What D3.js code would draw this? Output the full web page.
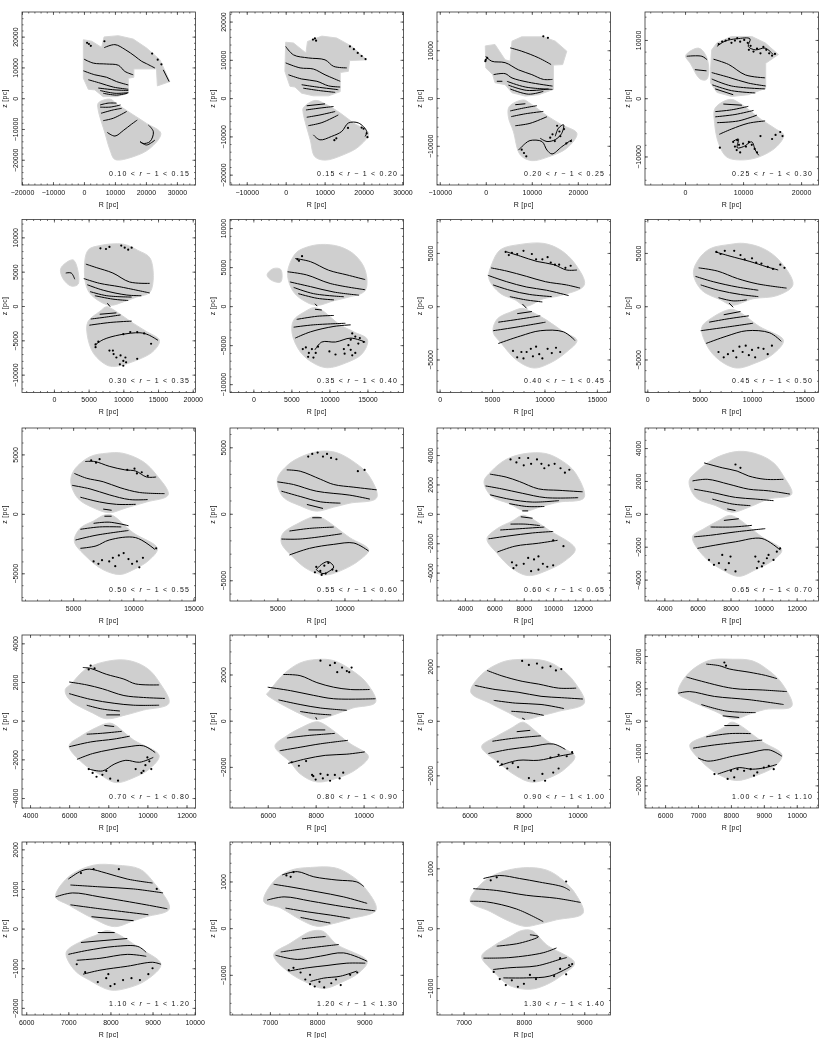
<!DOCTYPE html>
<html><head><meta charset="utf-8">
<script src="https://cdn.jsdelivr.net/npm/d3@7"></script>
<style>html,body{margin:0;background:#fff}svg{display:block}text{font-family:"Liberation Sans",sans-serif;font-size:7px;fill:#111}</style>
</head><body><svg id="c" width="830" height="1038"></svg>
<script>
const panelLabels=["0.10","0.15","0.20","0.25","0.30","0.35","0.40","0.45","0.50","0.55","0.60","0.65","0.70","0.80","0.90","1.00","1.10","1.20","1.30"];
const panelLabelEnds=["0.15","0.20","0.25","0.30","0.35","0.40","0.45","0.50","0.55","0.60","0.65","0.70","0.80","0.90","1.00","1.10","1.20","1.30","1.40"];
const rDomains=[[-20000,36000],[-14300,30250],[-10600,27100],[-6900,23000],[-4600,20400],[-3070,19740],[-250,16300],[-220,16350],[750,15170],[1470,14400],[2100,13900],[2830,13320],[3590,12460],[4425,11665],[4800,11220],[5390,10660],[5900,10020],[6155,9830],[6560,9435]];
const zDomains=[[-28200,28000],[-22700,22500],[-18200,18000],[-14900,14800],[-12600,12600],[-11070,11100],[-8100,8140],[-8100,8140],[-7330,7220],[-6560,6450],[-5930,5840],[-5300,5220],[-4515,4430],[-3780,3710],[-3200,3150],[-2700,2650],[-2180,2185],[-1860,1845],[-1450,1440]];
const rTicks=[[-20000,-10000,0,10000,20000,30000],[-10000,0,10000,20000,30000],[-10000,0,10000,20000],[0,10000,20000],[0,5000,10000,15000,20000],[0,5000,10000,15000],[0,5000,10000,15000],[0,5000,10000,15000],[5000,10000,15000],[5000,10000],[4000,6000,8000,10000,12000],[4000,6000,8000,10000,12000],[4000,6000,8000,10000,12000],[6000,8000,10000],[6000,8000,10000],[6000,7000,8000,9000,10000],[6000,7000,8000,9000,10000],[7000,8000,9000],[7000,8000,9000]];
const zTicks=[[-20000,-10000,0,10000,20000],[-20000,-10000,0,10000,20000],[-10000,0,10000],[-10000,0,10000],[-10000,-5000,0,5000,10000],[-10000,-5000,0,5000,10000],[-5000,0,5000],[-5000,0,5000],[-5000,0,5000],[-5000,0,5000],[-4000,-2000,0,2000,4000],[-4000,-2000,0,2000,4000],[-4000,-2000,0,2000,4000],[-2000,0,2000],[-2000,0,2000],[-2000,-1000,0,1000,2000],[-2000,-1000,0,1000,2000],[-1000,0,1000],[-1000,0,1000]];
const minorSteps=[2000,2000,2000,2000,1000,1000,1000,1000,1000,1000,500,500,500,500,500,200,200,200,200];
const upperOutlines=[
[-200,19000,2500,18500,5700,16500,6500,19900,11100,20300,15900,19200,20200,16300,24500,12500,27700,5400,23700,4000,23400,9500,16100,9500,16100,6800,14300,6500,14300,1600,10500,500,6200,500,3500,2700,1400,2900,-200,6500],
[0,14600,2000,14400,5200,11800,5600,14800,9300,16200,13100,15700,17000,13500,20800,10000,16400,9800,16100,7000,14000,6700,14000,1700,11000,600,7100,600,4100,1300,2400,2900,1100,3100,-200,7000],
[-100,10900,2000,11200,4200,8000,5300,7700,5700,11900,7800,12800,12500,12800,15100,11900,17600,9800,16700,7000,14700,6900,14700,1800,11500,700,8600,400,5700,1100,4200,2800,2000,3200,1500,4900,0,6300],
[4400,4900,4600,8300,5500,9500,8000,10600,11500,10600,13800,9500,16100,7500,13900,6000,13900,1700,10900,600,8000,300,5500,1000,4400,2600],
[4900,8100,6600,8800,10000,9000,12100,8100,13900,6900,13900,2100,11900,1300,10000,600,8100,100,6100,1000,4900,2300,4400,4800],
[5500,6700,6600,7400,8800,7900,11400,7600,13400,6500,14700,4600,14700,2000,12300,1100,10600,700,8400,100,7000,500,5300,1800,4500,4200],
[5800,5300,7700,5800,9900,5900,11500,5300,12900,4000,13800,2000,11500,1000,9900,700,8200,0,7200,600,5800,1200,4700,2600,5000,4000],
[6000,5400,7900,5800,9200,5900,11100,5400,12700,4200,13900,2000,12400,1000,10100,700,8100,100,7000,600,5200,1500,4400,3100,4900,4400],
[5100,3700,6400,4800,7800,5100,9100,5100,10800,4400,11900,3300,12900,1600,11100,1000,9400,500,8000,100,6700,500,5400,1300,4800,2700],
[5700,3600,6800,4300,8200,4700,9400,4600,10700,3900,11800,2900,12400,1200,10400,800,9200,500,7900,200,6700,600,5400,1300,5000,2600],
[5800,2900,6800,3700,8100,4100,9500,4100,10600,3600,11500,2800,12100,1100,10400,800,9200,500,8100,200,7000,700,5800,1200,5300,2200],
[6000,2600,7100,3400,8500,3800,9700,3600,10600,3100,11200,2300,11700,1200,10300,900,9100,400,8100,100,7100,500,5900,1000,5500,2000],
[6100,1900,6900,2700,8100,3100,9100,3100,10000,2700,10600,2000,11100,900,9800,550,8900,300,7900,100,7200,400,6000,1100,5800,1600],
[6000,1200,6650,2000,7350,2500,8050,2650,8750,2600,9550,2150,10150,1600,10500,800,9550,550,8750,250,8000,50,7350,300,5950,1150],
[6050,1050,6450,1700,7200,2150,7800,2250,8800,2200,9400,1900,9900,1400,10250,650,9300,350,8700,200,8000,50,7450,300,6750,650],
[6400,850,6650,1400,7300,1850,8050,1900,8650,1850,9150,1550,9550,1150,9850,450,9050,350,8550,200,8100,50,7500,300,6700,650],
[6700,800,7000,1300,7600,1600,8150,1600,8700,1500,9000,1200,9400,500,8850,300,8550,200,8100,50,7600,250,7000,600],
[6870,570,7080,1000,7440,1240,7860,1300,8390,1290,8700,1140,8990,890,9250,390,8700,200,8350,100,8000,40,7650,180,7230,430],
[7110,450,7270,720,7550,910,7990,1010,8380,970,8650,800,8870,550,8980,250,8540,140,8260,70,8020,30,7770,110,7440,280]];
const lowerOutlines=[
[4600,-1600,8400,-300,10500,-1800,15900,-5400,20200,-8200,24800,-11400,21300,-16300,15900,-19000,10000,-19900,8400,-16800,6800,-11400,4600,-3800],
[4500,-2600,7500,-600,10100,-1500,14000,-3900,17400,-6500,21300,-9200,18700,-12700,14800,-14800,10100,-16200,7500,-15300,6300,-10900,4500,-3900],
[5100,-1800,8200,-400,9600,-1100,13600,-3900,16500,-5600,19800,-7400,17600,-10500,13600,-12300,10000,-13100,7500,-11900,6000,-7000,4900,-3900],
[5200,-1700,7800,-200,9500,-900,13200,-3700,15500,-5200,17000,-6300,15800,-8300,12700,-10100,9500,-10600,7200,-10100,5800,-7800,5100,-4300],
[7600,-100,8500,-500,11400,-2500,13300,-3700,15200,-5000,14300,-6600,11400,-8100,8800,-8800,7600,-8600,5700,-6900,4800,-4200,4900,-2300,6600,-800],
[7900,-200,8800,-400,11400,-2400,13200,-3300,15000,-4300,14300,-6100,12100,-7300,9700,-7900,7900,-7300,6200,-5900,5100,-3500,5300,-1800,6800,-700],
[7900,-200,8500,-400,10200,-1300,11800,-2400,13100,-3200,12100,-4300,10600,-5300,9000,-5800,7400,-5100,5900,-3500,5100,-2400,5500,-1200,6900,-500],
[7900,-300,8700,-500,10700,-1900,13000,-3200,12000,-4500,10400,-5300,8500,-5800,6800,-5000,5700,-3700,5200,-2000,6000,-1200],
[7600,-100,8200,-100,10000,-1600,12000,-2900,11300,-3900,10000,-4700,8900,-5100,7500,-4700,6100,-3600,5100,-2300,5600,-1200,6700,-600],
[7800,-200,8300,-300,10400,-1800,11800,-2700,11100,-3500,9900,-4200,8600,-4600,7300,-4200,6200,-3300,5300,-2200,5400,-1500,6600,-700],
[7900,-100,8300,-200,9700,-1100,11500,-2400,10800,-3200,9700,-3800,8300,-4200,7200,-3700,6200,-2700,5500,-1700,6200,-1000,7200,-500],
[7900,-100,8300,-200,9900,-1400,11100,-2200,10600,-2800,9500,-3400,8500,-3800,7500,-3400,6400,-2600,5700,-1400,6400,-900,7300,-400],
[7900,-150,8200,-150,9300,-1000,10600,-1800,10100,-2500,9400,-2900,8400,-3200,7600,-2800,6700,-2200,6000,-1300,6600,-800,7400,-350],
[8000,-50,8250,-100,9450,-1000,10200,-1550,9700,-2100,9000,-2450,8050,-2650,7350,-2300,6950,-1800,6300,-1100,6800,-650,7400,-300],
[7950,-50,8100,-100,8900,-750,9900,-1300,9550,-1750,9050,-2050,8300,-2250,7700,-2000,7100,-1550,6450,-950,6950,-600,7500,-300],
[8000,-50,8200,-100,8950,-650,9550,-1050,9350,-1400,8750,-1700,8150,-1850,7600,-1650,7100,-1250,6750,-750,7300,-450,7800,-200],
[7900,-50,8100,-100,8700,-500,9200,-900,8850,-1300,8400,-1500,8000,-1550,7500,-1300,7150,-1050,6950,-600,7350,-300,7700,-150],
[7860,-70,8110,-60,8420,-350,9060,-710,8880,-960,8560,-1140,8140,-1290,7790,-1170,7370,-920,7080,-570,7440,-320,7720,-140],
[7960,-40,8130,-40,8380,-280,8840,-580,8650,-770,8380,-940,8100,-1020,7770,-960,7490,-720,7300,-470,7490,-300,7770,-140]];
const lobeOutlines={3:[100,7300,2300,8600,3500,7500,4100,4900,3700,3200,2600,3300,900,6000],4:[1000,5500,2800,6700,3500,3200,2500,2900,1300,4000],5:[1800,4000,2600,4800,3600,4700,3600,3100,2400,3300]};
const contourLines=[
[[6500,16400,10000,17400,13300,15800,16500,13600,18600,12000,20200,11200,22900,9800],[25600,9200,27500,5400],[0,12700,3000,11400,7300,11100,11100,10700,13200,8700,15900,7600],[-200,8900,3500,7600,7300,6800,10500,5400,14300,4300],[1400,6000,5200,4900,9500,3600,14300,2900],[4600,3300,10000,2700,14300,2500],[5200,2500,10000,1600,14300,1800],[6200,1600,10500,1000,14000,1600],[5200,-2200,7800,-1600,10500,-1600],[5200,-2900,8400,-2900,11800,-2200],[5500,-4900,9500,-3800,12200,-3300],[6200,-7300,9500,-6500,13800,-4300],[7500,-11100,10000,-12300,12700,-10500,15400,-8400,17200,-7100],[20800,-8700,22400,-10900,21300,-14100,19100,-14700,18100,-14100,20200,-15200,22900,-13600]],
[[0,13500,2000,11300,5800,10500,10100,10000,12300,8300,15700,7900],[0,9200,3700,7900,7100,7600,10100,6100,14000,4400],[700,6100,4100,5000,8000,4400,11000,3200,14000,2900],[4100,3500,8000,2900,13500,2200],[4500,2600,8400,2000,12700,1500],[5400,-2000,10100,-1500],[5200,-3100,8800,-2600,12300,-2200],[5400,-5000,8800,-4400,12700,-3500],[5800,-7200,9300,-6400,13500,-4400],[7100,-9600,8800,-10900,11800,-10000,14400,-8700,16100,-6500,18700,-6500,20800,-8700,20400,-10000]],
[[5300,10500,7800,9800,11500,8400,14200,7000],[0,8700,1300,7700,4200,7400,7100,5900,10000,4900,12500,3900,14500,3900],[1700,4900,4200,5100,5700,4200,9300,3300,14500,2500],[4600,3500,8600,2300,14500,1800],[4900,2700,8900,1600,13600,1900],[5300,1900,9300,800,12500,1400],[2400,3500,3600,3500],[6400,-1400,8600,-1200],[5300,-2700,8200,-2100,11100,-1600],[5500,-3900,8600,-3300,12500,-2800],[6400,-5800,9600,-5300,13300,-3900],[7100,-10900,8600,-9500,9600,-8900,12200,-9100,13300,-10900,14400,-11700,16500,-10200,18700,-8700],[15100,-8000,15800,-6300,16900,-5600,16500,-7400,15100,-8700,13300,-9100,11800,-8400]],
[[300,7200,2900,7200,3800,6600],[1700,4900,3700,4700],[4900,6700,7500,5800,10400,4000,13800,3500],[4600,4400,7500,3600,10900,2600,13900,2100],[4600,3300,8000,2100,13800,1600],[4700,2300,8000,1300,12100,900],[5200,1600,8300,600],[5500,8900,6900,9800,8900,10200,11200,10200,10900,8900,12100,8300,13800,8600,15200,7500],[6600,-1000,9800,-1200],[5200,-2300,8000,-2000,10900,-1400],[5200,-3200,8600,-2800,11800,-2100],[5500,-4200,9200,-3900,12400,-2900],[5900,-6200,8000,-5300,10900,-4300,13800,-3900],[8300,-7400,9200,-7000,9000,-8500,10100,-8300,11500,-7500,12100,-8900,12700,-9800]],
[[4600,6100,6100,5600,8500,4800,10900,3500,13800,3300],[4300,4000,6600,3300,9500,2800,13800,1900],[4800,3100,7100,2300,10500,1600,12600,1500],[5200,2100,7600,1500,11200,1300],[5900,1500,8500,1000,10700,800],[7700,400,8100,-100],[1700,4800,2500,4800,3000,3900],[6600,-1200,9000,-1000],[5300,-1900,7600,-1600,9600,-1300],[5100,-2800,8100,-2400,11200,-2200],[5900,-5700,7100,-4900,9500,-4200,12400,-3900,13600,-4200,15000,-5000]],
[[5500,6100,7500,5700,9900,4600,12300,4000,14700,3400],[4500,4400,7000,4000,10100,2900,14700,2100],[4800,3100,7500,2500,10600,1800,13900,1400],[5300,2400,7900,1600,11900,1200],[5900,1600,8400,1000,10600,800],[8100,300,8400,0],[8100,-400,9000,-500],[5700,-1700,8400,-1300,10600,-1200],[5300,-2700,7900,-2400,12100,-2200],[5500,-4100,7500,-3300,10600,-2600,12800,-2400],[8100,-5600,9000,-4600,10800,-4600,12800,-4100,14700,-4600]],
[[6400,5100,7700,4700,9300,4200,10900,3900,12100,3400,13100,3400],[4900,3600,6400,3300,8300,2800,10100,2300,12100,2000,13400,1700],[4600,2900,6400,2300,8300,1800,10200,1500,12300,1000],[5100,2000,6700,1500,8600,1100,10700,900],[6700,900,8200,600,9800,400],[7900,200,8300,-200],[7400,-700,8800,-500],[5600,-1500,7700,-1200,9600,-900],[5100,-2300,7100,-2000,10100,-1500],[5600,-3500,7700,-2800,9600,-2300,11800,-2400,12900,-3200]],
[[6500,5100,7900,4700,9800,4200,11400,3700,12500,3400],[4900,3600,6700,3300,8600,2600,10500,2100,13300,1700],[4600,2800,6300,2300,8600,1800,10600,1500],[5100,2000,6800,1500,8900,1100,10600,900],[6800,800,8200,500,9500,600],[7800,300,8200,-100],[7300,-800,8900,-500],[5900,-1500,7600,-1200,9700,-900],[5100,-2300,7300,-2000,10100,-1600],[5600,-3500,7600,-2800,9500,-2300,11700,-2500,12800,-3300]],
[[6000,4400,6800,4400,8000,4000,9300,3700,10200,3600,11100,3100,11900,3100],[5100,3400,6100,3000,7500,2700,8900,2200,10500,1800,12600,1700],[4900,2400,6400,2100,8000,1600,9700,1200,11200,1200],[5600,1400,7200,1000,8600,800,10200,800],[7500,400,8200,300],[7600,-200,8200,-200],[6700,-800,8000,-700,9600,-1000],[5600,-1300,7200,-1100,9000,-1100],[5200,-2200,6900,-1800,9600,-1400],[5600,-2900,6900,-2700,8000,-2200,10200,-2000,11800,-3000]],
[[5700,3300,6700,3200,8200,2600,9200,2200,10700,2000,12400,1800],[5000,2400,6200,2200,7900,1700,10400,1400,11900,1100],[5300,1700,6700,1300,8200,900,9700,800],[7200,700,8400,400],[7600,-300,8300,-300],[5900,-1300,7400,-1100,9200,-1000],[5300,-1900,6700,-1900,9800,-1500],[5900,-3100,7400,-2600,9200,-2300,10700,-2200,11800,-2800],[7900,-4200,8300,-3800,8800,-3600,9200,-4000,8900,-4300,8400,-4500,7900,-4200]],
[[5700,2700,6800,2500,7700,2200,9000,1700,10400,1600,12000,1500],[5400,1900,6500,1700,7900,1400,9500,1100,11700,1100],[5700,1300,7000,1000,8600,800,10400,900],[7000,700,8200,500,9400,500],[7900,200,8300,200],[7800,-200,8600,-300],[7100,-700,8100,-700,9100,-800],[6400,-1100,7900,-1000,9400,-900],[5600,-1700,7000,-1500,8600,-1300,10000,-1200],[6200,-2600,7400,-2200,9000,-2000,10300,-1800]],
[[6400,3100,7500,2800,8400,2600,9100,2300,10100,2100,11200,2100],[5700,2000,6600,2100,7900,1800,9100,1500,10300,1400,11600,1200],[5800,1500,6900,1300,8300,1000,9500,900,10600,800],[6900,900,8100,600,9200,500],[7800,300,8300,200],[7600,-400,8500,-300],[6800,-800,8100,-800,9300,-700],[5800,-1400,6800,-1300,8300,-1100,10100,-900],[6000,-2100,7100,-1900,8300,-1700,9900,-1500,11000,-2200]],
[[6700,2750,7100,2700,7900,2400,8800,2150,9400,1900,10600,1850],[6000,2000,6900,1850,7700,1650,8800,1300,9800,1200,10900,1150],[6000,1400,7100,1100,8300,900,9300,800,10600,800],[6900,800,7700,600,8600,500],[7900,300,8600,300],[7800,-250,8300,-300],[6900,-700,7700,-650,8700,-550],[6000,-1350,7100,-1100,8300,-950,9100,-800],[6400,-2000,7200,-1700,8100,-1500,9000,-1350,9800,-1300,10400,-1650],[7000,-2500,7700,-2600,8300,-2250,8900,-2050,9600,-2150,10300,-1900]],
[[6650,2000,7350,1950,8050,1650,8750,1450,9450,1350,10250,1350],[6000,1450,6950,1300,7900,1100,8750,950,10500,950],[6450,900,7350,700,8200,550,9300,450],[7350,400,8000,300,8650,250],[8000,150,8050,50],[7700,-400,8400,-400],[6800,-750,7600,-650,8800,-550],[6500,-1300,7350,-1150,8200,-1000,9350,-850],[6850,-1850,7600,-1650,8400,-1500,9300,-1450,10050,-1350]],
[[6650,1850,7200,1650,7950,1450,8550,1350,9300,1200,9950,1200],[6200,1300,6950,1150,7800,1050,8650,900,9400,850,10200,800],[6900,750,7700,650,8650,600,9500,450],[7550,350,8200,300,8750,200],[7950,100,8050,50],[7750,-400,8250,-350],[6850,-750,7550,-650,8650,-550],[6700,-1200,7450,-1050,8250,-950,9100,-850,9550,-1050],[7100,-1650,7800,-1450,8550,-1450,9300,-1300,9850,-1200]],
[[7250,1750,7650,1700,7950,1600,8550,1500,9050,1400,9400,1300],[6650,1350,7000,1250,8050,1000,8950,950,9700,900],[6400,850,6750,900,7500,750,8550,650,9600,500],[7100,500,7850,300,8750,250],[7750,150,8250,100],[7800,-150,8250,-150],[7250,-500,7950,-400,8600,-400],[6850,-850,7500,-750,8950,-600],[7000,-1150,7300,-1250,8050,-1100,8550,-1000,9150,-900,9550,-1100],[7600,-1650,8050,-1500,8250,-1450,8650,-1500,9050,-1450,9400,-1350]],
[[7000,1250,7300,1450,7500,1500,7900,1400,8400,1250,9000,1150],[7050,1100,7800,1050,8550,1000,9250,900],[6700,800,7100,900,7750,800,8850,600,9350,500],[7050,600,7750,500,8900,350],[7550,300,8550,200],[7700,-100,8100,-100],[7300,-350,8400,-250],[7000,-650,7450,-550,8100,-450,8650,-450,8850,-600],[7200,-800,7750,-750,8400,-650,8850,-700],[7350,-1150,7750,-1050,8400,-950,9000,-850,9200,-900]],
[[7260,1140,7580,1210,7930,1100,8420,1030,8840,990,8990,890],[7080,940,7510,870,8000,780,8560,670,9060,530],[6940,600,7300,670,7860,580,8560,460,9230,370],[7330,430,7790,350,8280,280,8700,210],[7650,230,8000,160,8280,110],[7680,-230,7930,-200,8180,-180],[7230,-510,7790,-430,8460,-350],[7120,-580,7580,-670,8070,-600,8560,-530,9060,-710],[7400,-920,7790,-850,8210,-800,8630,-750,9020,-750],[7860,-1140,8140,-1070,8490,-1030,8840,-920]],
[[7330,830,7600,880,7930,830,8260,770,8650,690,8760,630],[7160,660,7550,630,8040,550,8540,500,8940,430],[7110,450,7380,440,7880,320,8320,110],[7550,-300,7930,-250,8240,-140,8100,-110],[7330,-500,7770,-490,8320,-410,8540,-330],[7490,-690,7770,-660,8210,-630,8600,-520,8710,-490],[7660,-830,8040,-830,8430,-800,8790,-630]]];
const speckles=[
[1000,18000,1600,17600,2200,17000,6600,18500,22000,14500,23800,12500,25000,11000],
[7000,15300,7500,15600,7800,15000,16500,13500,17500,12800,18500,11800,19500,11000,20500,10200,20000,-8000,20800,-9200,21000,-10200,19500,-7700,12500,-11000,16000,-7800,13000,-10500],
[15500,-5800,16000,-7000,14500,-7600,17000,-6500,16200,-8000,15000,-9000,17500,-9500,18500,-9000,14000,-8300,7800,-10800,8300,-11500,8800,-12200,0,8000,300,8400,-100,7700,12500,12900,13500,12600],
[5800,9300,6400,9700,7000,9900,7600,10200,8000,9500,8600,9900,9000,10300,9500,9700,10200,10000,10800,9500,11300,9000,11000,8300,11800,8000,12400,8500,13000,7700,13500,8800,14000,8300,14500,7700,15000,7300,15500,7600,8300,-7500,8600,-8300,9000,-7200,9300,-8000,8900,-8900,9500,-9300,10000,-7800,10500,-8300,11000,-7500,11500,-8000,12000,-8700,12400,-9300,13000,-6500,15600,-6300,16400,-5800,16800,-6500,15000,-7000,6000,-8500],
[6700,8400,7500,8300,8000,8600,9700,8800,10200,8500,10700,8200,11200,8500,8600,-7000,9000,-7500,9600,-7200,10000,-8000,10300,-7500,9500,-8500,10000,-8700,10400,-8200,8000,-6500,8500,-6500,6000,-6000,14000,-5500,12000,-7700,10000,-4100,11000,-3800,12000,-3800,13000,-4000,6000,-5600,6400,-5200],
[6900,-5300,7300,-6000,7700,-5500,7200,-6500,7900,-6600,8200,-6000,8500,-5200,6500,-5500,12500,-5000,12800,-5600,13400,-6000,13000,-6300,11900,-5500,12000,-6100,12800,-4300,13400,-3900,14000,-4100,14500,-4600,13800,-4800,13000,-3500,10000,-5800,10800,-6200,6000,5800,6400,6400,5800,6000],
[6300,5100,6900,5000,6600,4800,7400,4900,8000,5200,8800,4900,9200,4400,9800,4400,10300,4600,10600,4100,11000,3900,11400,3900,12000,3600,12500,3800,7000,-4200,7400,-4800,7800,-4300,8000,-4900,8300,-4300,8700,-4000,8900,-4700,9200,-3800,9500,-4500,9800,-4900,10300,-4000,10700,-4400,11100,-3900,11500,-4300],
[6600,5100,7000,4900,7400,5200,8300,5200,8900,4800,9300,4400,10000,4500,10400,4100,10900,4000,11500,3700,12000,3500,12700,3900,13100,3600,6800,-4300,7300,-4800,7700,-4500,8200,-4200,8500,-4800,8800,-3800,9100,-4300,9400,-3700,9700,-4600,10000,-4100,10300,-4800,10600,-3900,11100,-4000,11500,-4500,11900,-3700],
[6500,4500,6900,4300,7200,4600,9500,3700,10100,3800,10300,3400,10700,3500,11200,3200,6700,-4000,7100,-4200,7400,-3900,8000,-4000,8300,-3700,8500,-4400,8800,-3500,9200,-3300,9600,-3800,9900,-4200,10300,-4000,10500,-4500,10800,-3700,11900,-2900],
[7300,4300,7600,4500,8000,4600,8400,4300,8700,4500,9000,4200,9400,4100,11000,3200,11500,3300,7900,-4000,8200,-4300,8500,-3900,8800,-3700,8600,-4500,9100,-4200,8300,-4600,7800,-4400,9400,-4300],
[7100,3700,7500,3500,7700,3800,8000,3300,8300,3800,8500,3400,8900,3700,9200,3400,9400,3100,9700,3300,10100,3400,10500,3100,10800,2800,11100,3000,7200,-3300,7300,-3700,7500,-3500,8000,-3400,8300,-3000,8700,-3100,9000,-2900,9300,-3400,9600,-3600,10000,-3500,9000,-3800,8500,-3900,10700,-2200,10000,-1800],
[6700,-2800,7000,-3100,7300,-3000,7700,-3400,7900,-3000,8300,-3500,8000,-2600,7500,-2500,9500,-2600,9700,-2900,10000,-3000,10300,-2500,10600,-2800,9900,-3200,9600,-3300,10200,-2700,10800,-2300,11000,-2100,8300,3000,8600,2800],
[7000,2650,7100,2850,7300,2700,7000,-2500,7200,-2700,7400,-2900,7700,-2800,7900,-2600,8100,-3000,8500,-3100,9400,-2500,9700,-2700,9900,-2300,10100,-2100,10200,-2500,10000,-1900,9800,-2600],
[8200,2600,8600,2400,8800,2500,9100,2300,9300,2150,9500,2300,8900,2100,9400,2100,7850,-2350,8000,-2550,8200,-2300,8300,-2500,8500,-2350,8600,-2600,8800,-2350,9000,-2500,9150,-2250,7000,-1800,7300,-1950,7600,-1750,7900,-2400],
[7950,2200,8200,2050,8500,2100,8700,1950,9000,2000,9200,1850,9400,1900,7200,-1600,7400,-1750,7600,-1550,7800,-1700,7050,-1500,8200,-2100,8400,-2200,8700,-1950,8800,-2200,9100,-1900,9300,-1750,9000,-1350,9300,-1250,9600,-1300,9800,-1150],
[7800,1800,7850,1700,7500,-1650,7900,-1800,8000,-1550,8200,-1500,8400,-1550,8600,-1500,8800,-1600,9000,-1450,9150,-1400,9300,-1500,8100,-1750,8700,-1700],
[7300,1400,7600,1500,8200,1500,9100,1000,7700,-1350,7900,-1250,8100,-1400,8300,-1300,8500,-1250,8700,-1300,8900,-1150,9000,-1000,8000,-1450,7950,-1150,7200,-900,7400,-1100],
[7350,1130,7500,1200,7440,1100,7750,-1100,7850,-1200,7950,-1250,8050,-1150,8150,-1270,8300,-1180,8400,-1100,8500,-1220,8700,-1000,8850,-950,7400,-900,7500,-850,7650,-950,7850,-1000],
[7450,800,7550,850,7600,-850,7700,-950,7800,-870,7900,-980,8000,-930,8100,-780,8200,-850,8500,-800,8600,-680,8700,-770,8600,-500,8750,-620,7500,-730,8800,-600,8700,780]];
const cornerPanels=[0,1,2,3];

const colLefts=[22,230,437,645],rowTops=[12,219.5,428,635,842],frameW=173.5,frameH=173;
const toPoints=f=>d3.range(0,f.length,2).map(i=>[f[i],f[i+1]]);
const svg=d3.select("#c");
const defs=svg.append("defs");
defs.append("filter").attr("id","soft").attr("filterUnits","userSpaceOnUse").attr("x",0).attr("y",0).attr("width",830).attr("height",1038)
  .append("feGaussianBlur").attr("stdDeviation",0.65);
const root=svg.append("g").attr("filter","url(#soft)");
root.append("rect").attr("width",830).attr("height",1038).attr("fill","#fff");
const fmt=d3.format("d");
panelLabels.forEach((lab,i)=>{
  const left=colLefts[i%4],top=rowTops[Math.floor(i/4)];
  const x=d3.scaleLinear().domain(rDomains[i]).range([left,left+frameW]);
  const y=d3.scaleLinear().domain(zDomains[i]).range([top+frameH,top]);
  const g=root.append("g");
  const straight=d3.line().x(d=>x(d[0])).y(d=>y(d[1])).curve(d3.curveLinearClosed);
  const round=d3.line().x(d=>x(d[0])).y(d=>y(d[1])).curve(d3.curveCatmullRomClosed.alpha(0.5));
  const open=d3.line().x(d=>x(d[0])).y(d=>y(d[1])).curve(d3.curveCatmullRom.alpha(0.5));
  const hasCorners=cornerPanels.includes(i);
  const shapes=[{f:upperOutlines[i],gen:hasCorners?straight:round},{f:lowerOutlines[i],gen:round}];
  if(lobeOutlines[i])shapes.push({f:lobeOutlines[i],gen:round});
  g.selectAll("path.s").data(shapes).join("path").attr("class","s").attr("d",s=>s.gen(toPoints(s.f))).attr("fill","#cfcfcf").attr("stroke","#d6d6d6").attr("stroke-width",1);
  g.selectAll("path.c").data(contourLines[i]).join("path").attr("class","c").attr("d",f=>open(toPoints(f))).attr("fill","none").attr("stroke","#000").attr("stroke-width",1);
  g.selectAll("circle.k").data(toPoints(speckles[i])).join("circle").attr("class","k").attr("cx",d=>x(d[0])).attr("cy",d=>y(d[1])).attr("r",1.1).attr("fill","#000");
  const step=minorSteps[i];
  const rMinor=d3.range(Math.ceil(rDomains[i][0]/step)*step,rDomains[i][1],step);
  const zMinor=d3.range(Math.ceil(zDomains[i][0]/step)*step,zDomains[i][1],step);
  const place=(gen,tx,ty,cls)=>{const a=g.append("g").attr("class",cls).attr("transform",`translate(${tx},${ty})`).call(gen);a.select(".domain").remove();a.selectAll("line").attr("stroke","#333").attr("stroke-width",0.7);return a;};
  place(d3.axisBottom(x).tickValues(rMinor).tickSize(-1.5).tickFormat(""),0,top+frameH,"m");
  place(d3.axisTop(x).tickValues(rMinor).tickSize(-1.5).tickFormat(""),0,top,"m");
  place(d3.axisLeft(y).tickValues(zMinor).tickSize(-1.5).tickFormat(""),left,0,"m");
  place(d3.axisRight(y).tickValues(zMinor).tickSize(-1.5).tickFormat(""),left+frameW,0,"m");
  place(d3.axisTop(x).tickValues(rTicks[i]).tickSize(-3).tickFormat(""),0,top,"m");
  place(d3.axisRight(y).tickValues(zTicks[i]).tickSize(-3).tickFormat(""),left+frameW,0,"m");
  const ab=place(d3.axisBottom(x).tickValues(rTicks[i]).tickSize(-3).tickPadding(0).tickFormat(fmt),0,top+frameH,"ax");
  ab.attr("font-size",null).attr("font-family",null);
  ab.selectAll("text").attr("y",9.5).attr("dy",null).attr("text-anchor","middle");
  const al=place(d3.axisLeft(y).tickValues(zTicks[i]).tickSize(-3).tickFormat(fmt),left,0,"ay");
  al.attr("font-size",null).attr("font-family",null);
  al.selectAll("text").attr("x",null).attr("dy",null).attr("text-anchor","middle").attr("transform","translate(-4.5,0) rotate(-90)");
  g.append("rect").attr("x",left).attr("y",top).attr("width",frameW).attr("height",frameH).attr("fill","none").attr("stroke","#333").attr("stroke-width",0.8);
  g.append("text").attr("x",left+frameW/2).attr("y",top+frameH+21.5).attr("text-anchor","middle").attr("letter-spacing",0.3).text("R [pc]");
  g.append("text").attr("transform",`translate(${left-15},${top+frameH/2}) rotate(-90)`).attr("text-anchor","middle").attr("letter-spacing",0.3).text("z [pc]");
  const t=g.append("text").attr("x",left+87).attr("y",top+163.5).attr("textLength",80).attr("lengthAdjust","spacing");
  t.append("tspan").text(lab+" < ");
  t.append("tspan").attr("font-style","italic").text("r");
  t.append("tspan").text(" − 1 < "+panelLabelEnds[i]);
});
</script></body></html>
